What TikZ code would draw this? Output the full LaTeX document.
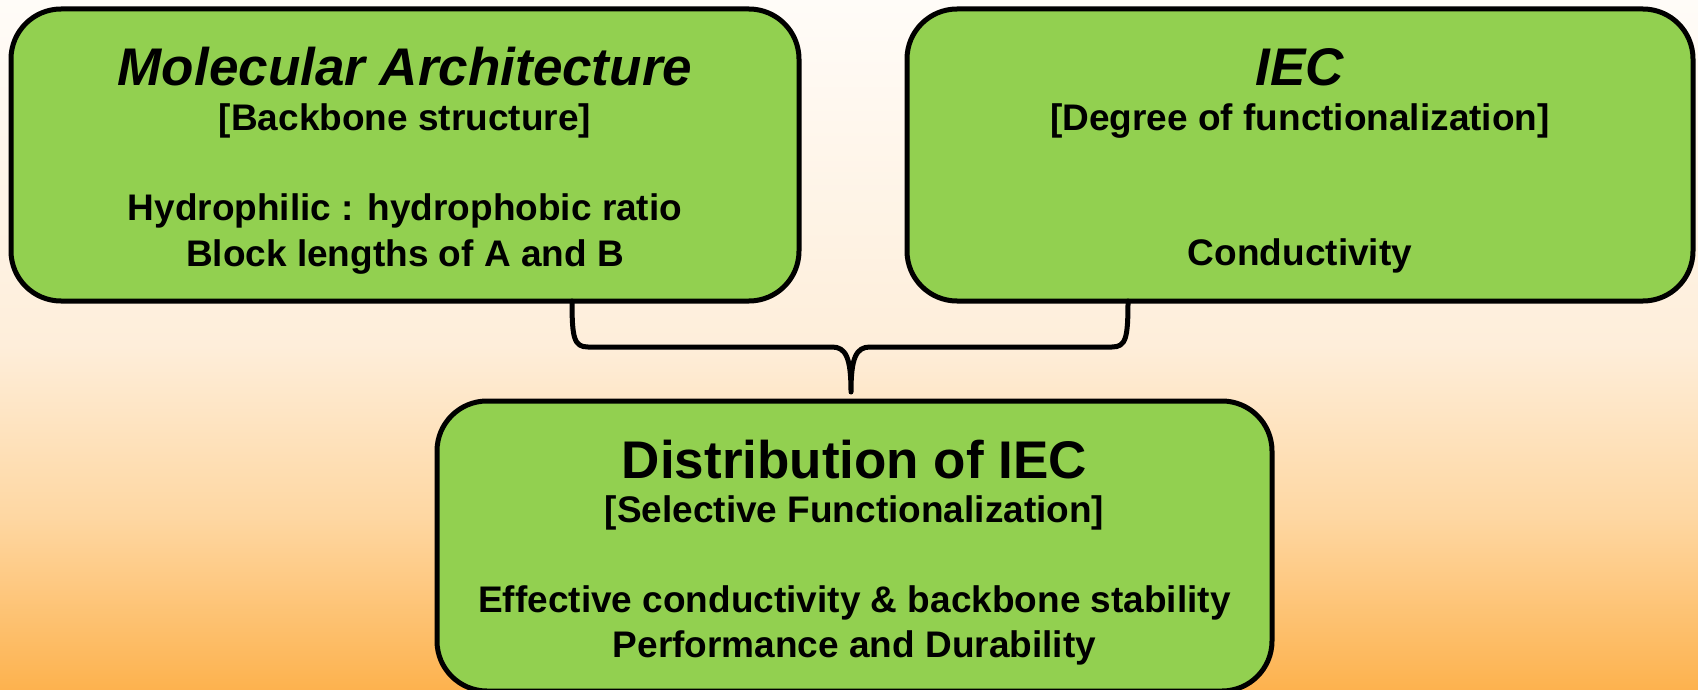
\documentclass[tikz,border=0pt]{standalone}
\usepackage{fontspec}
\setmainfont{Liberation Sans}
\definecolor{boxgreen}{HTML}{92D050}
\definecolor{bgtop}{HTML}{FFFCF8}
\definecolor{bgmid}{HTML}{FEEEDA}
\definecolor{bglow}{HTML}{FED7A2}
\definecolor{bgbot}{HTML}{FDB24E}
\pgfdeclareverticalshading{bgshade}{100bp}{color(0bp)=(bgbot); color(25bp)=(bgbot); color(37.5bp)=(bglow); color(50bp)=(bgmid); color(75bp)=(bgtop); color(100bp)=(bgtop)}
\tikzset{
  box/.style={draw=black, line width=5pt, fill=boxgreen, rounded corners=50pt, inner sep=0pt},
  bigtxt/.style={font=\fontsize{53}{60}\selectfont\bfseries, inner sep=0pt},
  smalltxt/.style={font=\fontsize{37}{42}\selectfont\bfseries, inner sep=0pt},
  bracel/.style={draw=black, line width=5pt, line cap=round, line join=round}
}
\begin{document}
\begin{tikzpicture}[x=1pt,y=-1pt]
\fill[shading=bgshade] (0,0) rectangle (1698,690);
\useasboundingbox (0,0) rectangle (1698,690);

\node[box, minimum width=788pt, minimum height=292pt] (ma) at (405,155) {};
\node[box, minimum width=786pt, minimum height=292pt] (iec) at (1300,155) {};

\coordinate (bl) at (572,301);
\coordinate (br) at (1128,301);
\coordinate (tip) at (851,392);
\draw[bracel] (bl) .. controls (572,338) and (574,347) .. (588,347) -- (832,347)
  .. controls (846,347) and (851,358) .. (tip)
  .. controls (851,358) and (856,347) .. (870,347) -- (1112,347)
  .. controls (1126,347) and (1128,338) .. (br);

\node[box, minimum width=835pt, minimum height=290pt] (dist) at (854.5,546) {};

\node[bigtxt, font=\fontsize{53}{60}\selectfont\bfseries\itshape] (t1) at (405,67) {Molecular Architecture};
\node[smalltxt] (t1b) at (405,121) {[Backbone structure]};
\node[smalltxt] (t1c) at (405,211) {Hydrophilic : hydrophobic ratio};
\node[smalltxt] (t1d) at (405,257) {Block lengths of A and B};

\node[bigtxt, font=\fontsize{53}{60}\selectfont\bfseries\itshape] (t2) at (1300,67) {IEC};
\node[smalltxt] (t2b) at (1300,121) {[Degree of functionalization]};
\node[smalltxt] (t2c) at (1300,256) {Conductivity};

\node[bigtxt] (t3) at (854.5,460) {Distribution of IEC};
\node[smalltxt] (t3b) at (854.5,513) {[Selective Functionalization]};
\node[smalltxt] (t3c) at (854.5,603) {Effective conductivity \& backbone stability};
\node[smalltxt] (t3d) at (854.5,648) {Performance and Durability};
\end{tikzpicture}
\end{document}
